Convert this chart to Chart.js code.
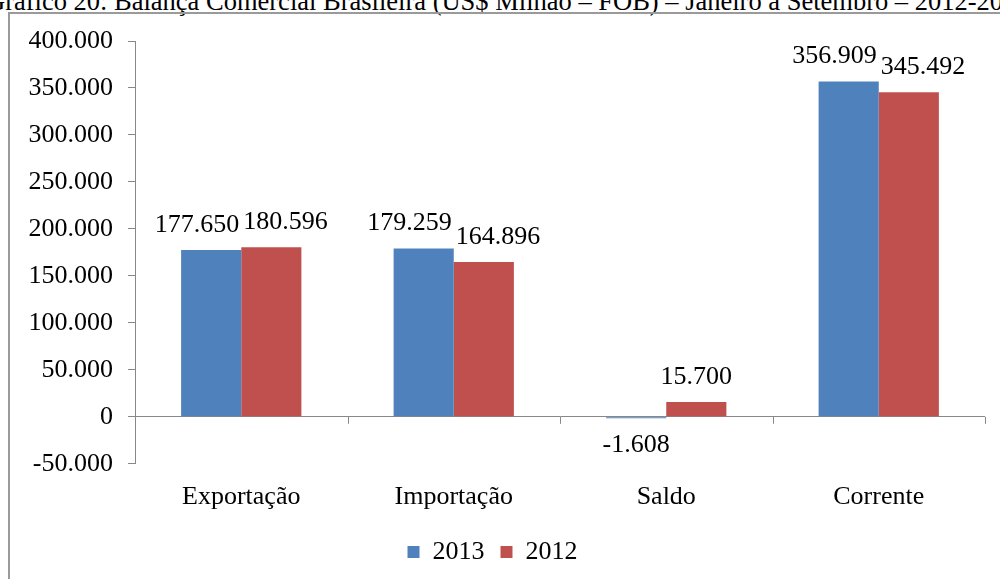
<!DOCTYPE html>
<html>
<head>
<meta charset="utf-8">
<script src="https://cdn.jsdelivr.net/npm/chart.js@4"></script>
<style>
  body { margin: 0; background: #fff; }
  #wrap { position: relative; width: 1000px; height: 579px; overflow: hidden; }
  #title { position: absolute; left: -14px; top: -14px; white-space: nowrap;
    font-family: "Liberation Serif", serif; font-size: 26.5px; color: #000; }
  #frame { position: absolute; left: 8px; top: 12px; width: 1200px; height: 800px;
    border-left: 2px solid #9a9a9a; border-top: 2px solid #9a9a9a; }
  canvas { position: absolute; left: 0; top: 0; }
</style>
</head>
<body>
<div id="wrap">
  <div id="title">Gráfico 20: Balança Comercial Brasileira (US$ Milhão – FOB) – Janeiro a Setembro – 2012-2013</div>
  <div id="frame"></div>
  <canvas id="chart" width="1000" height="579"></canvas>
</div>
<script>
const categorias = ['Exportação', 'Importação', 'Saldo', 'Corrente'];
const valores2013 = [177650, 179259, -1608, 356909];
const valores2012 = [180596, 164896, 15700, 345492];
const anos = ['2013', '2012'];
const cores = ['#4F81BD', '#C0504D'];

const fmt = (v) => {
  const s = Math.abs(v).toString().replace(/\B(?=(\d{3})+(?!\d))/g, '.');
  return (v < 0 ? '-' : '') + s;
};

const fonte = { family: 'Liberation Serif', size: 26 };

// rótulos de dados; afasta os dois rótulos da mesma categoria se colidirem
const rotulos = {
  id: 'rotulos',
  afterDatasetsDraw(chart) {
    const { ctx } = chart;
    ctx.save();
    ctx.font = '26px "Liberation Serif"';
    ctx.fillStyle = '#000';
    ctx.textAlign = 'center';
    const m0 = chart.getDatasetMeta(0).data;
    const m1 = chart.getDatasetMeta(1).data;
    categorias.forEach((c, j) => {
      const itens = [[m0[j], valores2013[j]], [m1[j], valores2012[j]]].map(([bar, v]) => {
        const txt = fmt(v);
        const w = ctx.measureText(txt).width;
        const yb = v < 0 ? bar.base + 17 + 24 : bar.y - 12;
        return { txt, w, x: bar.x, yb };
      });
      const [a, b] = itens;
      const sobrepoeY = Math.abs(a.yb - b.yb) < 24;
      const folga = (a.x + a.w / 2 + 4) - (b.x - b.w / 2);
      if (sobrepoeY && folga > 0) {
        a.x -= folga / 2;
        b.x += folga / 2;
      }
      itens.forEach((it) => {
        ctx.textBaseline = 'bottom';
        ctx.fillText(it.txt, it.x, it.yb);
      });
    });
    ctx.restore();
  }
};

// marcas de divisão das categorias no eixo zero
const marcasZero = {
  id: 'marcasZero',
  afterDraw(chart) {
    const { ctx, scales: { x, y } } = chart;
    const y0 = y.getPixelForValue(0);
    const passo = x.getPixelForValue(1) - x.getPixelForValue(0);
    ctx.save();
    ctx.strokeStyle = '#888';
    ctx.lineWidth = 1;
    for (let i = 1; i <= categorias.length; i++) {
      const px = Math.round(x.getPixelForValue(i) - passo / 2) + 0.5;
      ctx.beginPath();
      ctx.moveTo(px, y0);
      ctx.lineTo(px, y0 + 7);
      ctx.stroke();
    }
    ctx.restore();
  }
};

new Chart(document.getElementById('chart'), {
  type: 'bar',
  data: {
    labels: categorias,
    datasets: [
      { label: anos[0], data: valores2013, backgroundColor: cores[0] },
      { label: anos[1], data: valores2012, backgroundColor: cores[1] }
    ]
  },
  options: {
    responsive: false,
    animation: false,
    layout: { padding: { left: 0, right: 15, top: 41, bottom: 4 } },
    datasets: { bar: { categoryPercentage: 0.566, barPercentage: 1 } },
    plugins: {
      legend: {
        position: 'bottom',
        labels: {
          font: fonte,
          color: '#000',
          boxWidth: 12,
          boxHeight: 12,
          padding: 16
        }
      },
      tooltip: { enabled: false }
    },
    scales: {
      x: {
        grid: { display: false },
        border: { display: false },
        ticks: { font: fonte, color: '#000', padding: 10 }
      },
      y: {
        min: -50000,
        max: 400000,
        ticks: { stepSize: 50000, font: fonte, color: '#000', padding: 15, callback: (v) => fmt(v) },
        grid: {
          color: (c) => (c.tick && c.tick.value === 0 ? '#888' : 'rgba(0,0,0,0)'),
          tickColor: '#888',
          tickLength: 7
        },
        border: { display: true, color: '#888' },
        afterFit: (s) => { s.width = 135; }
      }
    }
  },
  plugins: [rotulos, marcasZero]
});
</script>
</body>
</html>
